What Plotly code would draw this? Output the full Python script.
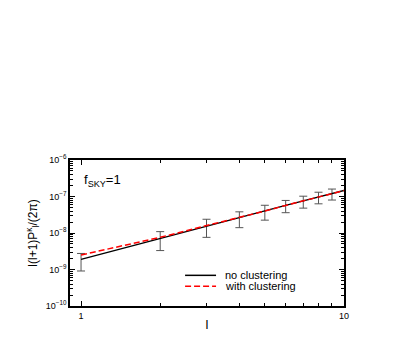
import plotly.graph_objects as go

# multipoles and spectra
ell = [1, 2, 3, 4, 5, 6, 7, 8, 9, 10]
no_clust = [1.9e-9, 7.2e-9, 1.57e-8, 2.6e-8, 4.0e-8, 5.7e-8, 7.6e-8, 9.8e-8, 1.2e-7, 1.46e-7]
with_clust = [2.5e-9, 7.6e-9, 1.6e-8, 2.62e-8, 4.0e-8, 5.7e-8, 7.6e-8, 9.8e-8, 1.2e-7, 1.46e-7]

ell_err = [1, 2, 3, 4, 5, 6, 7, 8, 9]
err_center = [1.83e-9, 7.1e-9, 1.57e-8, 2.6e-8, 4.0e-8, 5.7e-8, 7.5e-8, 9.7e-8, 1.2e-7]
err_size = [0.92e-9, 3.8e-9, 8.1e-9, 1.2e-8, 1.75e-8, 2.1e-8, 2.7e-8, 3.4e-8, 4.0e-8]

x_ticks = [1, 10]
x_labels = ['1', '10']
y_ticks = [1e-10, 1e-9, 1e-8, 1e-7, 1e-6]
y_labels = ['10<sup>−10</sup>', '10<sup>−9</sup>', '10<sup>−8</sup>', '10<sup>−7</sup>', '10<sup>−6</sup>']
x_minor = [2, 3, 4, 5, 6, 7, 8, 9]
y_minor = [m * 10.0 ** e for e in range(-10, -6) for m in range(2, 10)]

legend_names = ['no clustering', 'with clustering']
legend_colors = ['black', 'red']
legend_dash = ['solid', '6px,3px']

fig = go.Figure()
fig.add_trace(go.Scatter(x=ell_err, y=err_center, mode='markers',
                         marker=dict(size=1, color='rgba(0,0,0,0)'),
                         error_y=dict(type='data', array=err_size, color='#555',
                                      thickness=1, width=4),
                         showlegend=False, hoverinfo='skip'))
fig.add_trace(go.Scatter(x=ell, y=no_clust, mode='lines', name=legend_names[0],
                         line=dict(color='black', width=1.3), showlegend=False))
fig.add_trace(go.Scatter(x=ell, y=with_clust, mode='lines', name=legend_names[1],
                         line=dict(color='red', width=1.5, dash='6px,3px'), showlegend=False))

axis_common = dict(showline=True, linecolor='black', linewidth=1.5, mirror='ticks',
                   ticks='inside', ticklen=5, tickcolor='black', showgrid=False,
                   zeroline=False, automargin=False,
                   tickfont=dict(size=9, family='Liberation Sans', color='black'))

fig.update_xaxes(type='log', range=[-0.042, 1.0], tickvals=x_ticks, ticktext=x_labels,
                 minor=dict(tickvals=x_minor, ticks='inside', ticklen=3, tickcolor='black'),
                 title=dict(text='l', font=dict(size=13, color='black'), standoff=0),
                 **axis_common)
fig.update_yaxes(type='log', range=[-10, -6], tickvals=y_ticks, ticktext=y_labels,
                 minor=dict(tickvals=y_minor, ticks='inside', ticklen=3, tickcolor='black'),
                 title=dict(text='l(l+1)P<sup>κ</sup><sub>l</sub>/(2π)',
                            font=dict(size=12, color='black', family='Liberation Sans'),
                            standoff=6),
                 **axis_common)

fig.add_annotation(text='f<sub>SKY</sub>=1', xref='paper', yref='paper', x=0.045, y=0.93,
                   xanchor='left', yanchor='top', showarrow=False,
                   font=dict(size=13, family='Liberation Sans', color='black'))

# hand-made legend (tight rows like the reference)
for i, name in enumerate(legend_names):
    yy = 0.21 - i * 0.075
    fig.add_shape(type='line', xref='paper', yref='paper', x0=0.42, x1=0.533, y0=yy, y1=yy,
                  line=dict(color=legend_colors[i], width=1.5, dash=legend_dash[i]))
    fig.add_annotation(text=name, xref='paper', yref='paper', x=0.56, y=yy,
                       xanchor='left', yanchor='middle', showarrow=False,
                       font=dict(size=11, family='Liberation Sans', color='black'))

# page body adds an 8px offset, so the figure is sized to land where the reference is
fig.update_layout(width=407, height=338, plot_bgcolor='white', paper_bgcolor='white',
                  font=dict(family='Liberation Sans', color='black'),
                  margin=dict(l=62, r=71, t=152, b=40), showlegend=False)

fig.write_html("out.html")
